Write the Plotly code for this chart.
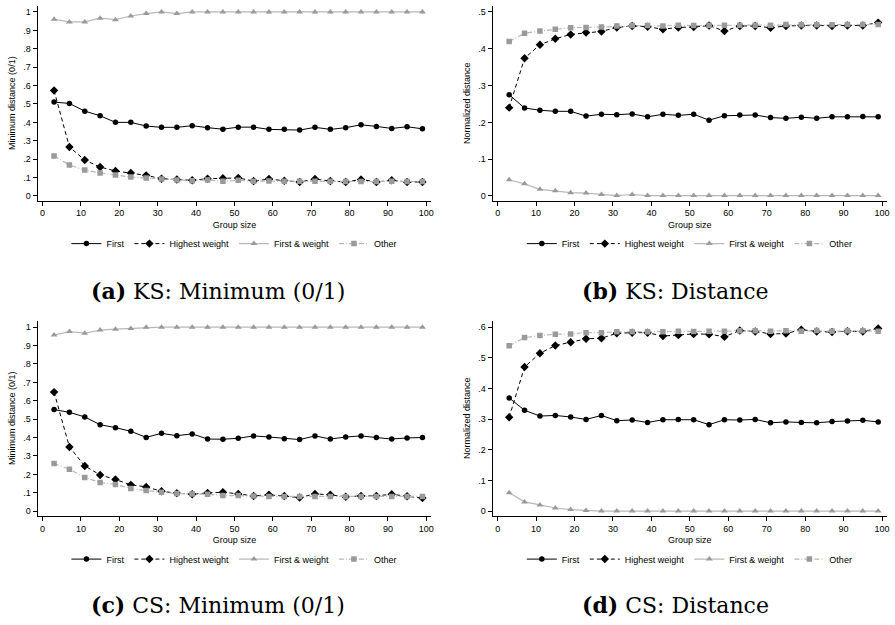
import plotly.graph_objects as go

group_size = [3, 7, 11, 15, 19, 23, 27, 31, 35, 39, 43, 47, 51, 55, 59, 63, 67, 71, 75, 79, 83, 87, 91, 95, 99]

series_names = ["First", "Highest weight", "First & weight", "Other"]

# (a) KS: Minimum (0/1)
ks_min_first = [0.510, 0.503, 0.461, 0.436, 0.400, 0.400, 0.380, 0.373, 0.373, 0.382, 0.371, 0.363, 0.374,
                0.374, 0.362, 0.362, 0.358, 0.373, 0.362, 0.371, 0.387, 0.378, 0.367, 0.376, 0.365]
ks_min_highest = [0.573, 0.266, 0.195, 0.157, 0.136, 0.125, 0.112, 0.094, 0.089, 0.085, 0.094, 0.096, 0.098,
                  0.081, 0.092, 0.083, 0.076, 0.092, 0.081, 0.076, 0.090, 0.076, 0.085, 0.076, 0.076]
ks_min_firstweight = [0.960, 0.946, 0.946, 0.966, 0.958, 0.978, 0.991, 1.0, 0.991, 1.0, 1.0, 1.0, 1.0,
                      1.0, 1.0, 1.0, 1.0, 1.0, 1.0, 1.0, 1.0, 1.0, 1.0, 1.0, 1.0]
ks_min_other = [0.217, 0.168, 0.141, 0.125, 0.114, 0.103, 0.098, 0.092, 0.087, 0.083, 0.087, 0.080, 0.085,
                0.080, 0.081, 0.080, 0.080, 0.080, 0.080, 0.078, 0.078, 0.078, 0.080, 0.078, 0.078]

# (b) KS: Distance
ks_dist_first = [0.275, 0.239, 0.233, 0.230, 0.230, 0.217, 0.222, 0.221, 0.223, 0.215, 0.222, 0.219, 0.222,
                 0.206, 0.218, 0.220, 0.220, 0.213, 0.211, 0.214, 0.211, 0.215, 0.215, 0.216, 0.215]
ks_dist_highest = [0.240, 0.374, 0.411, 0.427, 0.439, 0.444, 0.447, 0.458, 0.462, 0.460, 0.453, 0.458, 0.459,
                   0.463, 0.448, 0.462, 0.462, 0.457, 0.462, 0.463, 0.463, 0.462, 0.463, 0.463, 0.471]
ks_dist_firstweight = [0.044, 0.033, 0.018, 0.014, 0.009, 0.008, 0.004, 0.001, 0.004, 0.001, 0.001, 0.001, 0.001,
                       0.001, 0.001, 0.001, 0.001, 0.001, 0.001, 0.001, 0.001, 0.001, 0.001, 0.001, 0.001]
ks_dist_other = [0.420, 0.442, 0.448, 0.453, 0.457, 0.458, 0.459, 0.462, 0.463, 0.463, 0.462, 0.464, 0.463,
                 0.464, 0.464, 0.464, 0.464, 0.464, 0.466, 0.465, 0.465, 0.465, 0.466, 0.466, 0.466]

# (c) CS: Minimum (0/1)
cs_min_first = [0.552, 0.537, 0.512, 0.470, 0.454, 0.434, 0.401, 0.423, 0.410, 0.420, 0.392, 0.391, 0.396,
                0.409, 0.403, 0.394, 0.389, 0.409, 0.392, 0.403, 0.409, 0.400, 0.392, 0.398, 0.400]
cs_min_highest = [0.647, 0.349, 0.246, 0.197, 0.172, 0.143, 0.132, 0.108, 0.098, 0.092, 0.099, 0.103, 0.094,
                  0.083, 0.089, 0.083, 0.074, 0.094, 0.089, 0.078, 0.083, 0.083, 0.092, 0.081, 0.072]
cs_min_firstweight = [0.957, 0.976, 0.967, 0.984, 0.989, 0.993, 1.0, 1.0, 1.0, 1.0, 1.0, 1.0, 1.0,
                      1.0, 1.0, 1.0, 1.0, 1.0, 1.0, 1.0, 1.0, 1.0, 1.0, 1.0, 1.0]
cs_min_other = [0.259, 0.228, 0.183, 0.156, 0.145, 0.123, 0.112, 0.103, 0.096, 0.094, 0.092, 0.085, 0.085,
                0.083, 0.080, 0.080, 0.080, 0.080, 0.080, 0.078, 0.080, 0.080, 0.080, 0.080, 0.080]

# (d) CS: Distance
cs_dist_first = [0.369, 0.329, 0.310, 0.312, 0.307, 0.299, 0.312, 0.295, 0.297, 0.289, 0.298, 0.299, 0.298,
                 0.282, 0.298, 0.297, 0.299, 0.288, 0.291, 0.289, 0.288, 0.292, 0.294, 0.296, 0.291]
cs_dist_highest = [0.306, 0.470, 0.515, 0.540, 0.551, 0.562, 0.564, 0.580, 0.582, 0.582, 0.571, 0.574, 0.578,
                   0.577, 0.569, 0.589, 0.586, 0.578, 0.579, 0.592, 0.586, 0.584, 0.587, 0.586, 0.596]
cs_dist_firstweight = [0.060, 0.030, 0.020, 0.010, 0.005, 0.002, 0.0, 0.0, 0.0, 0.0, 0.0, 0.0, 0.0,
                       0.0, 0.0, 0.0, 0.0, 0.0, 0.0, 0.0, 0.0, 0.0, 0.0, 0.0, 0.0]
cs_dist_other = [0.539, 0.566, 0.573, 0.577, 0.578, 0.582, 0.582, 0.585, 0.585, 0.585, 0.585, 0.587, 0.586,
                 0.587, 0.587, 0.588, 0.588, 0.587, 0.588, 0.587, 0.589, 0.587, 0.588, 0.588, 0.587]

x_ticks = [0, 10, 20, 30, 40, 50, 60, 70, 80, 90, 100]
y_ticks_min = [0, 0.1, 0.2, 0.3, 0.4, 0.5, 0.6, 0.7, 0.8, 0.9, 1.0]
y_ticktext_min = ["0", ".1", ".2", ".3", ".4", ".5", ".6", ".7", ".8", ".9", "1"]
y_ticks_ks_dist = [0, 0.1, 0.2, 0.3, 0.4, 0.5]
y_ticktext_ks_dist = ["0", ".1", ".2", ".3", ".4", ".5"]
y_ticks_cs_dist = [0, 0.1, 0.2, 0.3, 0.4, 0.5, 0.6]
y_ticktext_cs_dist = ["0", ".1", ".2", ".3", ".4", ".5", ".6"]

captions = ["<b>(a)</b> KS: Minimum (0/1)", "<b>(b)</b> KS: Distance",
            "<b>(c)</b> CS: Minimum (0/1)", "<b>(d)</b> CS: Distance"]
y_titles = ["Minimum distance (0/1)", "Normalized distance", "Minimum distance (0/1)", "Normalized distance"]

panels = [
    (ks_min_first, ks_min_highest, ks_min_firstweight, ks_min_other),
    (ks_dist_first, ks_dist_highest, ks_dist_firstweight, ks_dist_other),
    (cs_min_first, cs_min_highest, cs_min_firstweight, cs_min_other),
    (cs_dist_first, cs_dist_highest, cs_dist_firstweight, cs_dist_other),
]

W, H = 895, 625
SANS = "Liberation Sans, Arial, sans-serif"
SERIF = "DejaVu Serif, serif"

# pixel layout (left, right, top, bottom) of each plot area
boxes = [
    (37.7, 432.7, 5.7, 200.9),
    (494.3, 890.0, 5.7, 200.9),
    (37.7, 432.7, 321.4, 516.6),
    (494.3, 890.0, 321.4, 516.6),
]
y_ranges = [[-0.025, 1.034], [-0.0125, 0.517], [-0.025, 1.034], [-0.0153, 0.6205]]
y_tick_sets = [(y_ticks_min, y_ticktext_min), (y_ticks_ks_dist, y_ticktext_ks_dist),
               (y_ticks_min, y_ticktext_min), (y_ticks_cs_dist, y_ticktext_cs_dist)]

styles = [
    dict(line=dict(color="black", width=1.0), marker=dict(symbol="circle", size=5.5, color="black")),
    dict(line=dict(color="black", width=1.0, dash="4px,3px"), marker=dict(symbol="diamond", size=6.5, color="black")),
    dict(line=dict(color="#b8b8b8", width=1.2), marker=dict(symbol="triangle-up", size=6, color="#9a9a9a")),
    dict(line=dict(color="#b8b8b8", width=1.2, dash="5px,2px,1px,2px"), marker=dict(symbol="square", size=5.5, color="#9a9a9a")),
]

fig = go.Figure()
legend_names = ["legend", "legend2", "legend3", "legend4"]

for p, series in enumerate(panels):
    xa = "x" if p == 0 else f"x{p+1}"
    ya = "y" if p == 0 else f"y{p+1}"
    for s, vals in enumerate(series):
        fig.add_trace(go.Scatter(
            x=group_size, y=vals, mode="lines+markers", name=series_names[s],
            xaxis=xa, yaxis=ya, legend=legend_names[p], **styles[s]))

layout = dict(
    width=W, height=H, margin=dict(l=0, r=0, t=0, b=0),
    paper_bgcolor="white", plot_bgcolor="white",
    font=dict(family=SANS, size=9, color="black"),
)

annotations = []
for p in range(4):
    l, r, t, b = boxes[p]
    xkey = "xaxis" if p == 0 else f"xaxis{p+1}"
    ykey = "yaxis" if p == 0 else f"yaxis{p+1}"
    xa = "x" if p == 0 else f"x{p+1}"
    ya = "y" if p == 0 else f"y{p+1}"
    layout[xkey] = dict(
        domain=[l / W, r / W], range=[-1.3, 101.3], anchor=ya,
        showline=True, linecolor="black", linewidth=1, showgrid=False, zeroline=False,
        ticks="outside", ticklen=4, tickcolor="black", tickwidth=1,
        tickvals=x_ticks, tickfont=dict(family=SANS, size=9), ticklabeloverflow="allow",
        title=dict(text="Group size", font=dict(family=SANS, size=9), standoff=4),
        fixedrange=True,
    )
    tv, tt = y_tick_sets[p]
    layout[ykey] = dict(
        domain=[1 - b / H, 1 - t / H], range=y_ranges[p], anchor=xa,
        showline=True, linecolor="black", linewidth=1, showgrid=False, zeroline=False,
        ticks="outside", ticklen=4, tickcolor="black", tickwidth=1,
        tickvals=tv, ticktext=tt, tickfont=dict(family=SANS, size=9),
        title=dict(text=y_titles[p], font=dict(family=SANS, size=9), standoff=6),
        fixedrange=True,
    )
    cx = (l + r) / 2 / W
    leg_y = 244 if p < 2 else 560
    layout[legend_names[p]] = dict(
        orientation="h", x=cx, xanchor="center", y=1 - leg_y / H, yanchor="middle",
        font=dict(family=SANS, size=9), itemwidth=30, bgcolor="rgba(0,0,0,0)",
        tracegroupgap=0,
    )
    cap_x = 219 if p % 2 == 0 else 678
    cap_y = 291 if p < 2 else 606
    annotations.append(dict(
        text=captions[p], xref="paper", yref="paper", x=cap_x / W, y=1 - cap_y / H,
        xanchor="center", yanchor="middle", showarrow=False,
        font=dict(family=SERIF, size=22, color="black"),
    ))

layout["annotations"] = annotations
fig.update_layout(**layout)
fig.write_html("out.html", config={"displayModeBar": False},
               post_script="document.body.style.margin='0px';document.body.style.overflow='hidden';")
